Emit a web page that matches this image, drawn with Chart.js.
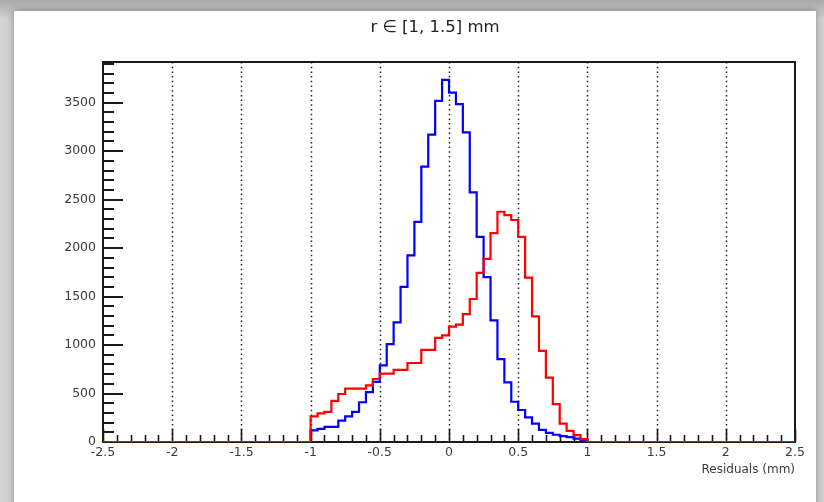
<!DOCTYPE html>
<html>
<head>
<meta charset="utf-8">
<script src="https://cdn.jsdelivr.net/npm/chart.js@4.4.1/dist/chart.umd.min.js"></script>
<style>
  html, body { margin: 0; padding: 0; background: #fff; }
  canvas { display: block; }
</style>
</head>
<body>
<canvas id="myChart" width="824" height="502"></canvas>
<script>
"use strict";

//binning of the residual histograms (mm)
const firstBin = -1.0;      //low edge of first filled bin
const binWidth = 0.05;

//entries per bin, starting at firstBin
const blueCounts = [120, 135, 155, 155, 220, 265, 310, 410, 515, 620,
                    790, 1010, 1235, 1600, 1925, 2270, 2840, 3170, 3520, 3735,
                    3605, 3485, 3195, 2575, 2115, 1700, 1255, 855, 615, 415,
                    330, 255, 190, 125, 95, 75, 60, 50, 35, 20];

const redCounts = [265, 295, 310, 425, 495, 550, 550, 550, 585, 650,
                   705, 705, 745, 745, 815, 815, 950, 950, 1075, 1100,
                   1190, 1210, 1320, 1475, 1745, 1890, 2155, 2375, 2340, 2290,
                   2115, 1695, 1295, 940, 665, 390, 190, 115, 70, 30];

//tick labels
const xTicks = [-2.5, -2, -1.5, -1, -0.5, 0, 0.5, 1, 1.5, 2, 2.5];
const yTicks = [0, 500, 1000, 1500, 2000, 2500, 3000, 3500];

const titleText = 'r \u2208 [1, 1.5] mm';

const xMin = -2.5, xMax = 2.5, yMax = 3920;

//turn bin contents into step points (low edge of every bin)
function histPoints(counts) {
    let pts = [{x: xMin, y: 0}];
    counts.forEach((c, i) => {
        pts.push({x: +(firstBin + i * binWidth).toFixed(2), y: c});
    });
    let end = +(firstBin + counts.length * binWidth).toFixed(2);
    pts.push({x: end, y: 0});
    pts.push({x: xMax, y: 0});
    return pts;
}

//grey page border behind the white pad, plus the pad title
const padBackground = {
    id: 'padBackground',
    beforeDraw(chart) {
        const ctx = chart.ctx;
        ctx.save();
        let g = ctx.createLinearGradient(0, 0, 0, 20);
        g.addColorStop(0, '#a9a9a9');
        g.addColorStop(1, '#d4d4d4');
        ctx.fillStyle = g;
        ctx.fillRect(0, 0, chart.width, chart.height);
        ctx.shadowColor = 'rgba(0,0,0,0.35)';
        ctx.shadowBlur = 8;
        ctx.fillStyle = '#ffffff';
        ctx.fillRect(14, 11, 802, 500);
        ctx.restore();
    },
    afterDraw(chart) {
        const ctx = chart.ctx;
        ctx.save();
        ctx.fillStyle = '#222';
        ctx.font = '16.5px "DejaVu Sans"';
        ctx.textAlign = 'center';
        ctx.textBaseline = 'middle';
        ctx.fillText(titleText, 435, 28);
        ctx.restore();
    }
};

//ROOT style frame: dotted grid, box and inward ticks
const rootFrame = {
    id: 'rootFrame',
    beforeDatasetsDraw(chart) {
        const {ctx, chartArea: a, scales: {x, y}} = chart;
        ctx.save();

        //dotted verticals at the major x ticks
        ctx.strokeStyle = '#222';
        ctx.lineWidth = 1.5;
        ctx.setLineDash([1.5, 3.2]);
        xTicks.slice(1, -1).forEach(v => {
            let px = Math.round(x.getPixelForValue(v)) + 0.5;
            ctx.beginPath();
            ctx.moveTo(px, a.top);
            ctx.lineTo(px, a.bottom);
            ctx.stroke();
        });
        ctx.setLineDash([]);

        //frame
        ctx.strokeStyle = '#1a1a1a';
        ctx.lineWidth = 2;
        ctx.strokeRect(a.left, a.top, a.right - a.left, a.bottom - a.top);

        //x ticks every 0.1, longer every 0.5
        ctx.lineWidth = 1.6;
        for (let k = -25; k <= 25; k++) {
            let px = Math.round(x.getPixelForValue(k / 10)) + 0.5;
            let len = (k % 5 === 0) ? 13 : 7;
            ctx.beginPath();
            ctx.moveTo(px, a.bottom);
            ctx.lineTo(px, a.bottom - len);
            ctx.stroke();
        }

        //y ticks every 100, longer every 500
        ctx.lineWidth = 2;
        for (let v = 0; v <= 3900; v += 100) {
            let py = Math.round(y.getPixelForValue(v));
            let len = (v % 500 === 0) ? 20 : 11;
            ctx.beginPath();
            ctx.moveTo(a.left, py);
            ctx.lineTo(a.left + len, py);
            ctx.stroke();
        }
        ctx.restore();
    }
};

const labelFont = {family: 'DejaVu Sans', size: 12.5};

const data = {
    datasets: [{
        //drawn on top
        label: 'red',
        data: histPoints(redCounts),
        borderColor: '#ff0000',
        borderWidth: 2.2,
        stepped: true,
        pointRadius: 0,
        fill: false
    }, {
        label: 'blue',
        data: histPoints(blueCounts),
        borderColor: '#0000ff',
        borderWidth: 2.2,
        stepped: true,
        pointRadius: 0,
        fill: false
    }]
};

const config = {
    type: 'line',
    data,
    plugins: [padBackground, rootFrame],
    options: {
        responsive: false,
        animation: false,
        devicePixelRatio: 1,
        layout: {
            padding: {left: 0, right: 29, top: 62, bottom: 0}
        },
        scales: {
            x: {
                type: 'linear',
                min: xMin,
                max: xMax,
                afterBuildTicks: s => { s.ticks = xTicks.map(v => ({value: v})); },
                afterFit: s => { s.height = 60; },
                grid: {display: false, drawTicks: false},
                border: {display: false},
                ticks: {
                    color: '#3a3a3a',
                    font: labelFont,
                    padding: 3,
                    maxRotation: 0,
                    autoSkip: false,
                    callback: v => String(v)
                },
                title: {
                    display: true,
                    text: 'Residuals (mm)',
                    align: 'end',
                    color: '#3a3a3a',
                    font: {family: 'DejaVu Sans', size: 12},
                    padding: {top: 0, bottom: 25}
                }
            },
            y: {
                type: 'linear',
                min: 0,
                max: yMax,
                afterBuildTicks: s => { s.ticks = yTicks.map(v => ({value: v})); },
                afterFit: s => { s.width = 103; },
                grid: {display: false, drawTicks: false},
                border: {display: false},
                ticks: {
                    color: '#3a3a3a',
                    font: labelFont,
                    padding: 7,
                    autoSkip: false,
                    callback: v => String(v)
                }
            }
        },
        plugins: {
            legend: {display: false},
            tooltip: {enabled: false},
            title: {display: false}
        }
    }
};

const myChart = new Chart(document.getElementById('myChart'), config);
</script>
</body>
</html>
